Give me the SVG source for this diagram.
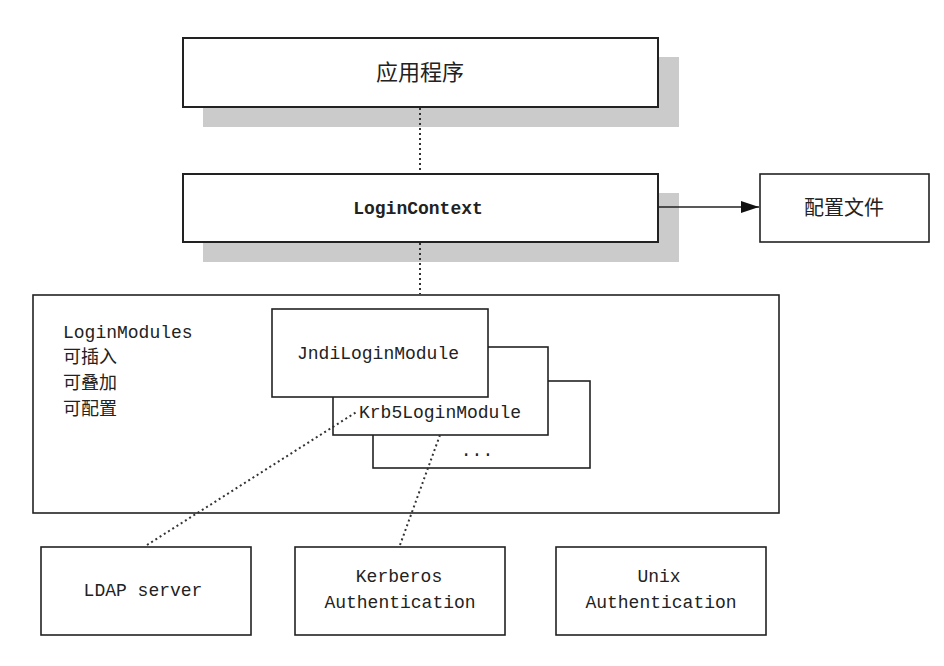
<svg xmlns="http://www.w3.org/2000/svg" width="944" height="666" viewBox="0 0 944 666">
<style>
.box{fill:#fff;stroke:#222;stroke-width:1.6}
.thick{stroke-width:2}
.shadow{fill:#cbcbcb}
.mono{font-family:"Liberation Mono","DejaVu Sans Mono",monospace;font-size:18px;fill:#222}
.cjk{font-family:"Noto Sans CJK SC","Noto Sans",sans-serif;fill:#222}
.dot{fill:none;stroke:#333;stroke-width:2;stroke-dasharray:2 3}
.line{fill:none;stroke:#222;stroke-width:1.6}
</style>
<defs>
<marker id="arr" markerWidth="18" markerHeight="12" refX="18" refY="6" orient="auto" markerUnits="userSpaceOnUse">
<path d="M0,0 L18,6 L0,12 Z" fill="#111"/>
</marker>
</defs>
<rect width="944" height="666" fill="#fff"/>
<g id="app">
<rect class="shadow" x="203" y="57" width="476" height="70"/>
<rect class="box thick" x="183" y="38" width="475" height="69"/>
<text class="cjk" x="420" y="80" font-size="22" text-anchor="middle">应用程序</text>
</g>
<g id="logincontext">
<rect class="shadow" x="203" y="193" width="476" height="69"/>
<rect class="box thick" x="183" y="174" width="475" height="68"/>
<text class="mono" x="418" y="214" font-size="19" font-weight="bold" text-anchor="middle">LoginContext</text>
</g>
<g id="config">
<rect class="box" x="760" y="174" width="169" height="68"/>
<text class="cjk" x="844" y="215" font-size="20" text-anchor="middle">配置文件</text>
</g>
<g id="loginmodules">
<rect class="box" x="33" y="295" width="746" height="218"/>
<text class="mono" x="63" y="338">LoginModules</text>
<text class="cjk" x="63" y="363" font-size="18">可插入</text>
<text class="cjk" x="63" y="389" font-size="18">可叠加</text>
<text class="cjk" x="63" y="415" font-size="18">可配置</text>
</g>
<g id="module3">
<rect class="box" x="373" y="381" width="217" height="87"/>
<text class="mono" x="477" y="456" text-anchor="middle">...</text>
</g>
<g id="krb5">
<rect class="box" x="333" y="347" width="215" height="88"/>
<text class="mono" x="440" y="418" text-anchor="middle">Krb5LoginModule</text>
</g>
<g id="jndi">
<rect class="box" x="272" y="309" width="216" height="88"/>
<text class="mono" x="378" y="359" text-anchor="middle">JndiLoginModule</text>
</g>
<g id="ldap">
<rect class="box" x="41" y="547" width="210" height="88"/>
<text class="mono" x="143" y="596" text-anchor="middle">LDAP server</text>
</g>
<g id="kerberos">
<rect class="box" x="295" y="547" width="210" height="88"/>
<text class="mono" x="399" y="582" text-anchor="middle">Kerberos</text>
<text class="mono" x="400" y="608" text-anchor="middle">Authentication</text>
</g>
<g id="unix">
<rect class="box" x="556" y="547" width="210" height="88"/>
<text class="mono" x="659" y="582" text-anchor="middle">Unix</text>
<text class="mono" x="661" y="608" text-anchor="middle">Authentication</text>
</g>
<g id="connectors">
<line class="dot" x1="420" y1="108" x2="420" y2="173"/>
<line class="dot" x1="420" y1="243" x2="420" y2="294"/>
<line class="line" x1="658" y1="207" x2="759" y2="207" marker-end="url(#arr)"/>
<line class="dot" x1="147" y1="545" x2="358" y2="411"/>
<line class="dot" x1="400" y1="545" x2="440" y2="435"/>
</g>
</svg>
